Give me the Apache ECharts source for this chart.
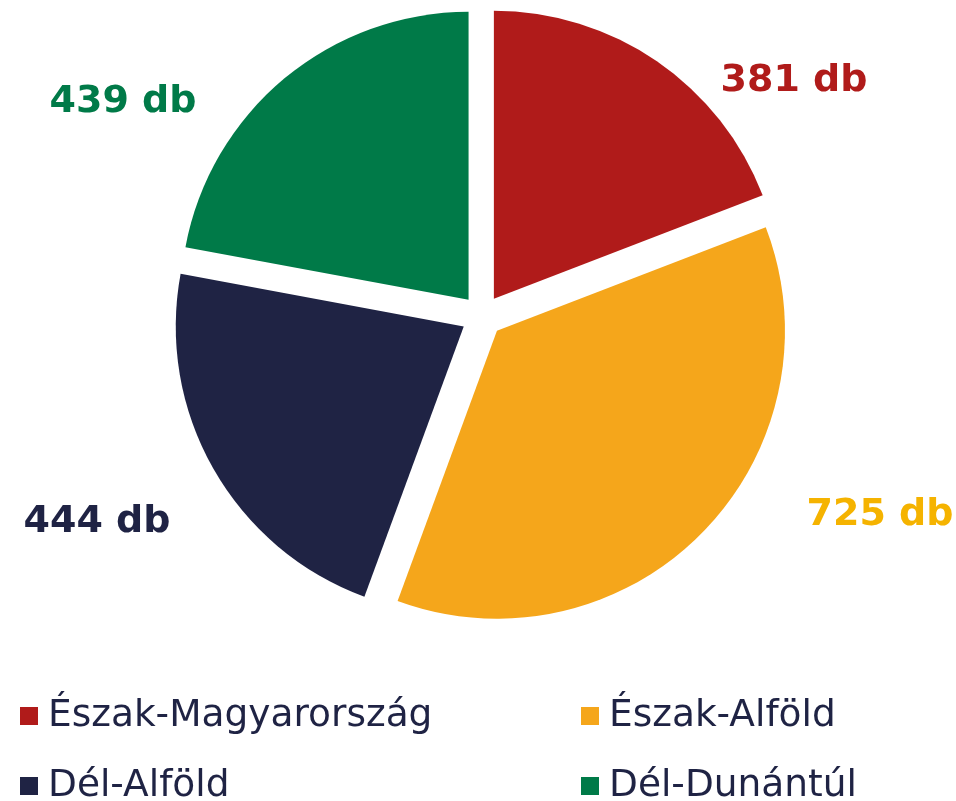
<!DOCTYPE html>
<html>
<head>
<meta charset="utf-8">
<script src="https://cdn.jsdelivr.net/npm/echarts@6/dist/echarts.min.js"></script>
<style>
html, body { margin: 0; padding: 0; background: #fff; }
#view { width: 956px; height: 801px; }
</style>
</head>
<body>
<div id="view"></div>
<script>
var myCharts = echarts.init(document.getElementById("view"));

/* 基础数据 */
var regions = ['Észak-Magyarország', 'Észak-Alföld', 'Dél-Alföld', 'Dél-Dunántúl'];
var counts = [381, 725, 444, 439];
var colors = ['#B01B1A', '#F5A61B', '#1F2344', '#007A48'];
var labelColors = ['#B01B1A', '#F5B300', '#1F2344', '#007A48'];
var unit = ' db';

// 标签位置（像素，文字中心）
var labelPos = [[794, 81], [880, 515], [97, 522], [123, 102]];
// 图例位置（左，上）
var legendPos = [[20, 696], [581, 696], [20, 766], [581, 766]];

var pieData = regions.map(function (name, i) {
    return {
        name: name,
        value: counts[i],
        selected: true,
        itemStyle: { color: colors[i] }
    };
});

/* 每个图例单独一个组件，排成两列 */
var legends = regions.map(function (name, i) {
    return {
        data: [name],
        left: legendPos[i][0],
        top: legendPos[i][1],
        icon: 'rect',
        itemWidth: 18,
        itemHeight: 18,
        padding: 0,
        selectedMode: false,
        textStyle: {
            fontFamily: 'DejaVu Sans',
            fontSize: 37.5,
            color: '#1F2344',
            lineHeight: 40,
            padding: [0, 0, 0, 5]
        }
    };
});

/* 数值标签 */
var labels = regions.map(function (name, i) {
    return {
        type: 'text',
        x: labelPos[i][0],
        y: labelPos[i][1],
        style: {
            text: counts[i] + unit,
            fill: labelColors[i],
            font: 'bold 38px "DejaVu Sans"',
            textAlign: 'center',
            textVerticalAlign: 'middle'
        }
    };
});

option = {
    animation: false,
    legend: legends,
    graphic: labels,
    series: [{
        type: 'pie',
        center: [482, 316],
        radius: 288,
        startAngle: 90,
        clockwise: true,
        selectedMode: 'multiple',
        selectedOffset: 21,
        data: pieData,
        label: { show: false },
        labelLine: { show: false },
        emphasis: { disabled: true }
    }]
};

myCharts.setOption(option);
</script>
</body>
</html>
